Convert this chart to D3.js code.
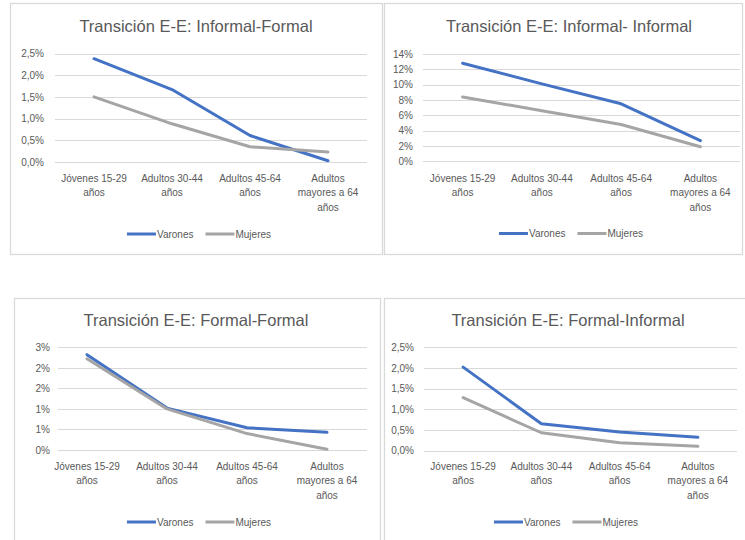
<!DOCTYPE html>
<html>
<head>
<meta charset="utf-8">
<script src="https://cdn.jsdelivr.net/npm/d3@7"></script>
<style>
  html, body { margin: 0; padding: 0; background: #ffffff; }
  svg { display: block; }
  text { font-family: "Liberation Sans", Arial, sans-serif; fill: #595959; }
</style>
</head>
<body>
<svg id="chart" width="745" height="540"></svg>
<script>
// ---------- DATA ----------
const categories = ["Jóvenes 15-29 años", "Adultos 30-44 años", "Adultos 45-64 años", "Adultos mayores a 64 años"];
const categoryLines = [["Jóvenes 15-29", "años"], ["Adultos 30-44", "años"], ["Adultos 45-64", "años"], ["Adultos", "mayores a 64", "años"]];
const seriesNames = ["Varones", "Mujeres"];

const titles = [
  "Transición E-E: Informal-Formal",
  "Transición E-E: Informal- Informal",
  "Transición E-E: Formal-Formal",
  "Transición E-E: Formal-Informal"
];

// Informal-Formal
const varonesInfFor = [0.0238, 0.0167, 0.0061, 0.0003];
const mujeresInfFor = [0.0150, 0.0088, 0.0035, 0.0023];
// Informal-Informal
const varonesInfInf = [0.128, 0.101, 0.075, 0.027];
const mujeresInfInf = [0.084, 0.066, 0.048, 0.019];
// Formal-Formal
const varonesForFor = [0.0232, 0.0102, 0.0054, 0.0043];
const mujeresForFor = [0.0222, 0.0100, 0.0040, 0.0002];
// Formal-Informal
const varonesForInf = [0.0202, 0.0065, 0.0045, 0.0032];
const mujeresForInf = [0.0128, 0.0043, 0.0019, 0.0010];

// tick values and labels
const ticksHalfPct = [0, 0.005, 0.01, 0.015, 0.02, 0.025];
const labelsHalfPctComma = ["0,0%", "0,5%", "1,0%", "1,5%", "2,0%", "2,5%"];
const labelsHalfPctRound = ["0%", "1%", "1%", "2%", "2%", "3%"];
const ticksTwoPct = [0, 0.02, 0.04, 0.06, 0.08, 0.10, 0.12, 0.14];
const labelsTwoPct = ["0%", "2%", "4%", "6%", "8%", "10%", "12%", "14%"];

// ---------- LAYOUT ----------
const colors = ["#4472C4", "#A5A5A5"];
const panels = [
  { frame: [10, 3, 372, 251], title: titles[0], titleX: 196, titleY: 32,
    plot: { left: 55, right: 367, top: 53.5, bottom: 162 }, gridLeft: 55, labelRight: 44,
    ticks: ticksHalfPct, labels: labelsHalfPctComma, series: [varonesInfFor, mujeresInfFor],
    legendX: 199, legendY: 234, labelY: 178 },
  { frame: [384, 3, 358, 251], title: titles[1], titleX: 569, titleY: 32,
    plot: { left: 423, right: 740, top: 54, bottom: 161.3 }, gridLeft: 423, labelRight: 413,
    ticks: ticksTwoPct, labels: labelsTwoPct, series: [varonesInfInf, mujeresInfInf],
    legendX: 571, legendY: 233.5, labelY: 178 },
  { frame: [14, 298, 366, 260], title: titles[2], titleX: 196, titleY: 326,
    plot: { left: 47, right: 367, top: 347.3, bottom: 450 }, gridLeft: 58, labelRight: 50,
    ticks: ticksHalfPct, labels: labelsHalfPctRound, series: [varonesForFor, mujeresForFor],
    legendX: 199, legendY: 522, labelY: 466 },
  { frame: [384, 298, 380, 260], title: titles[3], titleX: 568, titleY: 326,
    plot: { left: 424, right: 737, top: 347.3, bottom: 450.5 }, gridLeft: 424, labelRight: 414,
    ticks: ticksHalfPct, labels: labelsHalfPctComma, series: [varonesForInf, mujeresForInf],
    legendX: 566, legendY: 522, labelY: 466 }
];

const svg = d3.select("#chart");

panels.forEach(p => {
  const g = svg.append("g");

  // frame
  g.append("rect")
    .attr("x", p.frame[0] + 0.5).attr("y", p.frame[1] + 0.5)
    .attr("width", p.frame[2]).attr("height", p.frame[3])
    .attr("fill", "#fff").attr("stroke", "#d9d9d9").attr("stroke-width", 1.3);

  // title
  g.append("text")
    .attr("x", p.titleX).attr("y", p.titleY)
    .attr("text-anchor", "middle")
    .style("font-size", "16.5px")
    .text(p.title);

  const y = d3.scaleLinear()
    .domain([0, p.ticks[p.ticks.length - 1]])
    .range([p.plot.bottom, p.plot.top]);
  const x = d3.scaleBand()
    .domain(categories)
    .range([p.plot.left, p.plot.right]);

  // gridlines
  g.append("g").selectAll("line")
    .data(p.ticks)
    .join("line")
    .attr("x1", p.gridLeft).attr("x2", p.plot.right)
    .attr("y1", d => Math.round(y(d)) + 0.5).attr("y2", d => Math.round(y(d)) + 0.5)
    .attr("stroke", "#d9d9d9").attr("stroke-width", 1);

  // y axis labels
  const yAxis = d3.axisLeft(y)
    .tickValues(p.ticks)
    .tickFormat((d, i) => p.labels[i])
    .tickSize(0).tickPadding(0);
  const ya = g.append("g")
    .attr("transform", `translate(${p.labelRight},0)`)
    .call(yAxis);
  ya.select(".domain").remove();
  ya.selectAll("text").style("font-size", "10px").attr("fill", "#595959")
    .style("font-family", '"Liberation Sans", Arial, sans-serif');

  // x axis labels (wrapped)
  const xAxis = d3.axisBottom(x).tickSize(0).tickFormat("");
  const xa = g.append("g")
    .attr("transform", `translate(0,${p.labelY})`)
    .call(xAxis);
  xa.select(".domain").remove();
  xa.selectAll(".tick").each(function(d, i) {
    const t = d3.select(this).select("text");
    t.text(null)
      .attr("y", 0).attr("dy", null)
      .attr("fill", "#595959")
      .style("font-size", "10px")
      .style("font-family", '"Liberation Sans", Arial, sans-serif');
    categoryLines[i].forEach((ln, k) => {
      t.append("tspan").attr("x", 0).attr("y", k * 14.5).attr("dy", "0.35em").text(ln);
    });
  });

  // lines
  const line = d3.line()
    .x((d, i) => x(categories[i]) + x.bandwidth() / 2)
    .y(d => y(d));
  p.series.forEach((s, si) => {
    g.append("path")
      .datum(s)
      .attr("d", line)
      .attr("fill", "none")
      .attr("stroke", colors[si])
      .attr("stroke-width", 3)
      .attr("stroke-linejoin", "round")
      .attr("stroke-linecap", "round");
  });

  // legend
  const lg = g.append("g");
  let cx = 0;
  seriesNames.forEach((name, si) => {
    const it = lg.append("g");
    it.append("line")
      .attr("x1", cx).attr("x2", cx + 29)
      .attr("y1", 0).attr("y2", 0)
      .attr("stroke", colors[si]).attr("stroke-width", 3);
    const tx = it.append("text")
      .attr("x", cx + 30).attr("y", 0).attr("dy", "0.35em")
      .style("font-size", "10px")
      .text(name);
    const w = tx.node().getComputedTextLength();
    cx += 30 + w + 12;
  });
  const total = cx - 12;
  lg.attr("transform", `translate(${p.legendX - total / 2},${p.legendY})`);
});
</script>
</body>
</html>
